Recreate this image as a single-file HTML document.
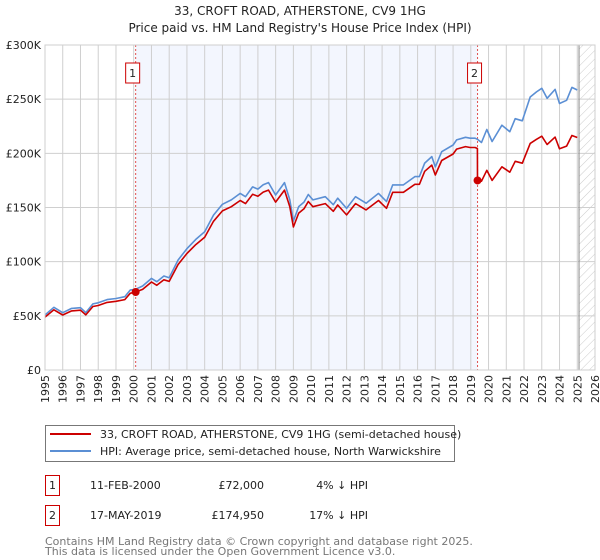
<!DOCTYPE html>
<html><head><meta charset="utf-8"><style>
body{margin:0;background:#fff;font-family:"DejaVu Sans","Liberation Sans",sans-serif;}
svg{display:block;font-family:"DejaVu Sans","Liberation Sans",sans-serif;}
</style></head><body>
<svg id="chart" width="600" height="560" xmlns="http://www.w3.org/2000/svg">
<defs><pattern id="hatch" width="6" height="6" patternUnits="userSpaceOnUse" patternTransform="rotate(45)"><line x1="0" y1="0" x2="0" y2="6" stroke="#ccc" stroke-width="1"/></pattern></defs>
<text x="300" y="15" text-anchor="middle" font-size="12" fill="#222">33, CROFT ROAD, ATHERSTONE, CV9 1HG</text>
<text x="300" y="32" text-anchor="middle" font-size="12" fill="#222">Price paid vs. HM Land Registry's House Price Index (HPI)</text>
<g id="plot"></g>
<g>
<rect x="45.5" y="425.5" width="409" height="36" fill="#fff" stroke="#777"/>
<line x1="50" y1="434" x2="91" y2="434" stroke="#cc0000" stroke-width="2"/>
<text x="100" y="438" font-size="11" fill="#222">33, CROFT ROAD, ATHERSTONE, CV9 1HG (semi-detached house)</text>
<line x1="50" y1="451" x2="91" y2="451" stroke="#5b8fd4" stroke-width="2"/>
<text x="100" y="455" font-size="11" fill="#222">HPI: Average price, semi-detached house, North Warwickshire</text>
</g>
<g font-size="11" fill="#222">
<rect x="45.5" y="475.5" width="14" height="20" fill="#fff" stroke="#cc0000"/>
<text x="52.5" y="489" text-anchor="middle">1</text>
<text x="90" y="489">11-FEB-2000</text>
<text x="264" y="489" text-anchor="end">£72,000</text>
<text x="368" y="489" text-anchor="end">4% ↓ HPI</text>
<rect x="45.5" y="505.5" width="14" height="20" fill="#fff" stroke="#cc0000"/>
<text x="52.5" y="519" text-anchor="middle">2</text>
<text x="90" y="519">17-MAY-2019</text>
<text x="264" y="519" text-anchor="end">£174,950</text>
<text x="368" y="519" text-anchor="end">17% ↓ HPI</text>
</g>
<text x="45" y="545" font-size="11" fill="#777">Contains HM Land Registry data © Crown copyright and database right 2025.</text>
<text x="45" y="555" font-size="11" fill="#777">This data is licensed under the Open Government Licence v3.0.</text>
</svg>
<script>
const hpiDates=[1995.0,1995.5,1996.0,1996.5,1997.0,1997.3,1997.7,1998.0,1998.5,1999.0,1999.5,1999.8,2000.1,2000.5,2001.0,2001.3,2001.7,2002.0,2002.5,2003.0,2003.5,2004.0,2004.5,2005.0,2005.5,2006.0,2006.3,2006.7,2007.0,2007.3,2007.6,2008.0,2008.5,2008.8,2009.0,2009.3,2009.6,2009.84,2010.1,2010.8,2011.25,2011.5,2012.0,2012.5,2013.1,2013.8,2014.25,2014.6,2015.2,2015.85,2016.1,2016.4,2016.8,2017.0,2017.36,2018.0,2018.2,2018.7,2018.96,2019.24,2019.37,2019.6,2019.9,2020.2,2020.75,2021.2,2021.5,2021.9,2022.35,2022.7,2023.0,2023.3,2023.75,2024.0,2024.4,2024.7,2025.0];
const hpiValues=[50.8,57.9,52.9,56.9,57.5,53,61,62,65,66,67.7,73.8,74.5,77.5,84.6,81.5,86.8,85.2,101.5,112,120.6,127.7,143,153,157,163,160,169,167,171,173,161.5,173,157,137.5,150.8,155,162,157,160,152.6,158.6,149.2,160,154,163,155.5,170.9,170.9,178.5,178.5,191,197,187.5,201.5,207.7,212.4,214.8,214,214,213,210,222,210.9,226,220,232,230,252,256.7,260,250.8,259,246,249,260.9,258.5];
const propDates=[1995.0,1995.5,1996.0,1996.5,1997.0,1997.3,1997.7,1998.0,1998.5,1999.0,1999.5,1999.8,2000.1,2000.5,2001.0,2001.3,2001.7,2002.0,2002.5,2003.0,2003.5,2004.0,2004.5,2005.0,2005.5,2006.0,2006.3,2006.7,2007.0,2007.3,2007.6,2008.0,2008.5,2008.8,2009.0,2009.3,2009.6,2009.84,2010.1,2010.8,2011.25,2011.5,2012.0,2012.5,2013.1,2013.8,2014.25,2014.6,2015.2,2015.85,2016.1,2016.4,2016.8,2017.0,2017.36,2018.0,2018.2,2018.7,2018.96,2019.24,2019.37,2019.38,2019.6,2019.9,2020.2,2020.75,2021.2,2021.5,2021.9,2022.35,2022.7,2023.0,2023.3,2023.75,2024.0,2024.4,2024.7,2025.0];
const propValues=[48.8,55.6,50.8,54.6,55.2,50.9,58.6,59.5,62.4,63.4,65,70.8,72,74.4,81.2,78.2,83.3,81.8,97.4,107.5,115.8,122.6,137.3,146.9,150.7,156.5,153.6,162.2,160.3,164.2,166.1,155,166.1,150.7,132,144.8,148.8,155.5,150.7,153.6,146.5,152.3,143.2,153.6,147.8,156.5,149.3,164,164,171.4,171.4,183.4,189.1,180,193.4,199.4,203.9,206.2,205.4,205.4,204.5,174.95,174.3,184.3,175,187.6,182.6,192.6,190.9,209.2,213,215.8,208.2,215,204.2,206.7,216.5,214.6];
const saleDates=[2000.11,2019.38];
const saleValues=[72,174.95];
const saleLabels=["1","2"];
const yTicks=[0,50,100,150,200,250,300];
const yTickLabels=["£0","£50K","£100K","£150K","£200K","£250K","£300K"];
const xTicks=[1995,1996,1997,1998,1999,2000,2001,2002,2003,2004,2005,2006,2007,2008,2009,2010,2011,2012,2013,2014,2015,2016,2017,2018,2019,2020,2021,2022,2023,2024,2025,2026];
const dataEnd=2025.1;

const X0=45,X1=595,Y0=370,Y1=45;
const xs=d=>X0+(d-1995)/(2026-1995)*(X1-X0);
const ys=v=>Y0-v/300*(Y0-Y1);
const NS="http://www.w3.org/2000/svg";
const g=document.getElementById('plot');
function mk(t,a,p){const e=document.createElementNS(NS,t);for(const k in a)e.setAttribute(k,a[k]);(p||g).appendChild(e);return e;}

const shade=mk('rect',{x:xs(saleDates[0]),y:Y1,width:xs(saleDates[1])-xs(saleDates[0]),height:Y0-Y1,fill:'#f3f6fe'});


const hat=mk('rect',{x:xs(dataEnd),y:Y1,width:X1-xs(dataEnd),height:Y0-Y1,fill:'url(#hatch)'});



xTicks.forEach(t=>{
  const l=mk('line',{x1:xs(t),x2:xs(t),y1:Y1,y2:Y0,stroke:'#cfcfcf','stroke-width':1});
  
  
  const tx=mk('text',{x:0,y:0,'font-size':11,fill:'#222','text-anchor':'end',transform:`translate(${xs(t)+4},${Y0+5}) rotate(-90)`});
  tx.textContent=t;
  
  
});
yTicks.forEach((t,i)=>{
  const l=mk('line',{x1:X0,x2:X1,y1:ys(t),y2:ys(t),stroke:'#cfcfcf','stroke-width':1});
  
  
  const tx=mk('text',{x:X0-4,y:ys(t)+4,'font-size':11,fill:'#222','text-anchor':'end'});
  tx.textContent=yTickLabels[i];
  
  
});
const endLine=mk('line',{x1:xs(dataEnd),x2:xs(dataEnd),y1:Y1,y2:Y0,stroke:'#888','stroke-width':1});



saleDates.forEach((d,i)=>{
  const l=mk('line',{x1:xs(d),x2:xs(d),y1:Y1,y2:Y0,stroke:'#e05050','stroke-width':1,'stroke-dasharray':'2,2'});
  
  
});

function path(ds,vs,col,name){
  const p=mk('path',{d:ds.map((d,i)=>(i?'L':'M')+xs(d).toFixed(1)+','+ys(vs[i]).toFixed(1)).join(''),fill:'none',stroke:col,'stroke-width':1.6,'stroke-linejoin':'round'});
  
  
}
path(hpiDates,hpiValues,'#5b8fd4','hpi-line');
path(propDates,propValues,'#cc0000','property-price-line');

saleDates.forEach((d,i)=>{
  const c=mk('circle',{cx:xs(d),cy:ys(saleValues[i]),r:4,fill:'#cc0000'});
  
  
  const bx=xs(d)-3;
  const r=mk('rect',{x:bx-7,y:63,width:14,height:20,fill:'#fff',stroke:'#cc0000'});
  
  
  const t=mk('text',{x:bx,y:77,'font-size':11,fill:'#222','text-anchor':'middle'});
  t.textContent=saleLabels[i];
  
  
});
const frame=mk('rect',{x:X0,y:Y1,width:X1-X0,height:Y0-Y1,fill:'none',stroke:'#cfcfcf'});


</script>
</body></html>
